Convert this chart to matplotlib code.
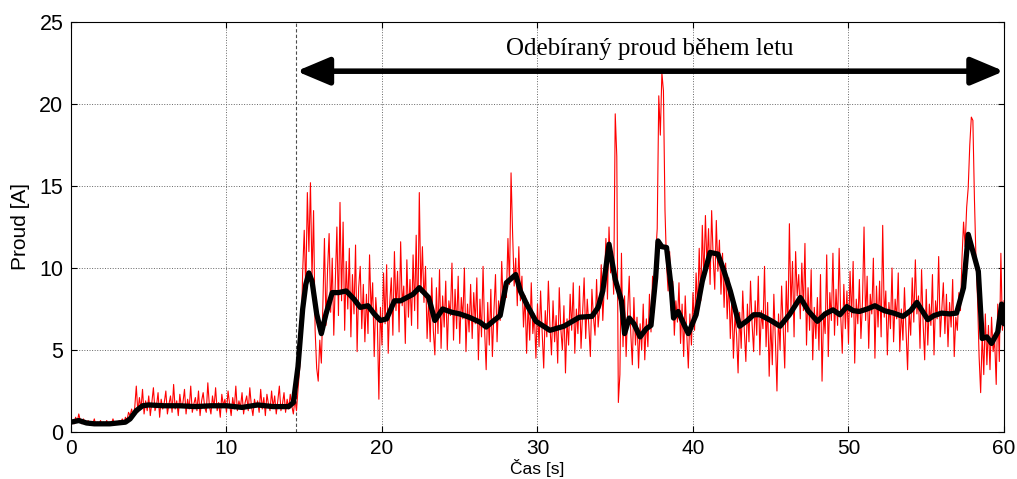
import numpy as np
import matplotlib
matplotlib.use("Agg")
import matplotlib.pyplot as plt

# Red raw current, sampled every 0.1 s from 0.0 to 60.0 s
red_current = [
    0.4, 0.7, 0.5, 0.9, 0.6, 1.1, 0.7, 0.5, 0.8, 0.6,
    0.5, 0.7, 0.4, 0.6, 0.5, 0.8, 0.4, 0.6, 0.5, 0.7,
    0.4, 0.6, 0.5, 0.7, 0.4, 0.6, 0.5, 0.8, 0.5, 0.6,
    0.5, 0.7, 0.6, 0.8, 0.5, 0.9, 0.7, 1.2, 1.0, 1.4,
    0.9, 1.5, 2.8, 1.2, 2.1, 1.4, 2.6, 1.1, 1.9, 1.3,
    2.2, 1.0, 1.8, 2.7, 1.3, 1.6, 2.4, 0.9, 2.0, 1.4,
    1.8, 2.5, 1.1, 1.7, 2.2, 1.2, 2.9, 1.4, 1.9, 1.0,
    2.3, 1.5, 1.8, 2.6, 1.1, 2.0, 1.4, 2.8, 1.2, 1.7,
    2.1, 1.3, 2.5, 1.0, 1.9, 2.4, 1.5, 1.2, 3.0, 1.6,
    1.1, 2.2, 1.5, 2.7, 1.3, 1.8, 0.9, 2.3, 1.6, 2.0,
    1.2, 2.5, 1.7, 1.0, 2.1, 1.4, 2.8, 1.3, 1.9, 1.5,
    2.4, 1.1, 1.8, 2.2, 1.3, 2.7, 1.6, 1.0, 2.0, 1.5,
    1.9, 1.2, 2.6, 1.4, 2.1, 1.0, 2.3, 1.7, 1.3, 2.5,
    1.5, 2.2, 1.1, 1.9, 2.8, 1.3, 1.7, 2.4, 1.2, 2.0,
    1.4, 2.3, 1.6, 1.1, 2.0, 1.3, 2.6, 3.8, 5.5, 9.8,
    12.3, 8.5, 14.6, 11.0, 15.2, 9.4, 13.5, 6.2, 3.9, 3.1,
    5.6, 4.2, 7.8, 11.8, 6.5, 9.9, 12.1, 7.3, 10.6, 5.9,
    9.2, 12.5, 7.1, 14.0, 8.0, 12.8, 6.2, 10.4, 7.5, 11.2,
    5.8, 9.6, 7.2, 11.4, 4.9, 8.8, 10.1, 6.3, 9.0, 5.5,
    8.4, 6.0, 10.8, 7.3, 9.1, 4.6, 8.2, 6.8, 2.0, 7.6,
    5.3, 9.7, 6.6, 10.2, 4.8, 7.9, 9.4, 5.9, 11.0, 7.4,
    9.8, 6.1, 11.6, 7.7, 8.9, 5.4, 10.5, 7.0, 9.3, 6.5,
    10.8, 7.4, 12.0, 6.3, 14.6, 8.5, 11.3, 7.9, 10.1, 5.7,
    8.1, 5.5, 9.4, 6.2, 4.7, 8.8, 6.0, 9.9, 5.1, 8.3,
    6.4, 9.2, 5.0, 8.0, 7.1, 10.3, 5.6, 8.7, 6.3, 9.5,
    5.4, 8.2, 6.9, 10.0, 4.9, 7.8, 6.1, 9.0, 5.7, 8.5,
    6.6, 9.4, 4.4, 8.1, 5.8, 10.1, 6.2, 3.8, 7.9, 5.3,
    8.7, 4.6, 7.4, 9.6, 5.5, 8.0, 6.8, 10.4, 7.6, 9.1,
    8.2, 11.8, 9.0, 15.8, 12.1, 8.9, 10.6, 7.7, 11.3, 8.0,
    9.5, 6.4, 8.3, 4.8, 7.9, 5.6, 9.1, 6.0, 7.2, 4.5,
    7.8, 5.2, 8.6, 6.1, 3.9, 7.4, 5.8, 9.2, 6.5, 4.7,
    8.0, 5.5, 7.1, 4.2, 8.8, 6.3, 5.0, 7.7, 3.6, 6.9,
    5.3, 8.4, 6.2, 9.1, 4.8, 7.5, 6.0, 8.9, 5.1, 7.3,
    9.4, 5.7, 8.1, 6.5, 4.6, 8.7, 7.0, 5.9, 9.3, 6.4,
    7.6, 10.2, 6.8, 9.0, 11.8, 8.1, 12.5, 9.7, 11.0, 8.4,
    19.4, 16.8, 1.8, 3.5, 10.9, 5.2, 8.3, 4.6, 7.4, 9.5,
    6.0, 4.1, 8.2, 5.3, 7.0, 3.9, 6.6, 5.0, 7.8, 4.4,
    6.9, 5.2, 8.4, 6.1, 9.5, 7.3, 10.8, 12.4, 20.5, 18.1,
    21.9, 20.8, 13.5, 10.2, 8.6, 11.0, 7.4, 9.2, 5.9, 8.0,
    6.7, 9.1, 5.4, 7.8, 4.6, 8.3, 6.0, 3.9, 7.2, 5.3,
    8.5, 6.2, 9.7, 7.4, 11.2, 8.0, 12.6, 9.3, 13.2, 10.1,
    12.4, 9.0, 13.5, 10.6, 8.7, 12.9, 9.8, 11.7, 8.4, 10.9,
    7.6, 10.3, 6.9, 9.4, 5.7, 8.2, 4.5, 7.1, 6.0, 3.6,
    7.3, 5.1, 8.6, 6.2, 4.3, 7.8, 5.5, 9.2, 6.6, 4.9,
    8.0, 5.9, 9.5, 4.7, 7.4, 6.3, 10.1, 5.2, 7.9, 3.4,
    6.8, 4.1, 8.4, 5.6, 2.5, 7.2, 5.0, 8.9, 6.4, 3.9,
    9.2, 6.1, 12.7, 7.5, 10.4, 5.8, 11.0, 8.3, 9.6, 6.9,
    10.3, 7.4, 11.5, 5.3, 8.8, 6.2, 9.9, 4.4, 7.6, 5.7,
    8.2, 5.0, 9.6, 3.1, 7.3, 6.0, 10.8, 4.6, 8.5, 6.8,
    10.9, 5.9, 8.7, 6.5, 11.2, 7.1, 4.8, 9.0, 6.3, 8.6,
    5.4, 9.8, 7.0, 10.4, 4.2, 8.1, 6.6, 9.3, 5.7, 7.9,
    12.5, 6.8, 9.5, 5.1, 8.4, 7.2, 10.6, 4.5, 8.9, 6.4,
    9.2, 5.8, 12.6, 7.0, 8.6, 4.7, 7.9, 6.3, 10.0, 5.5,
    8.1, 6.9, 9.7, 4.9, 7.5, 5.6, 8.8, 6.2, 3.8, 7.4,
    5.9, 9.4, 6.7, 10.5, 7.2, 8.3, 5.1, 9.9, 6.6, 4.4,
    8.7, 5.3, 7.8, 6.5, 9.6, 4.7, 8.0, 6.9, 10.7, 5.8,
    7.5, 9.1, 6.0, 8.4, 5.2, 7.9, 6.4, 9.3, 4.6, 7.0,
    6.2, 8.5, 7.4, 10.6, 12.8, 11.3, 13.7, 14.9, 17.5, 19.2,
    19.0, 14.2, 10.5, 8.1, 4.6, 2.4, 6.0, 3.5, 7.2, 4.1,
    6.5, 3.8, 7.0, 4.9, 5.6, 2.9, 7.8, 4.3, 10.9, 6.2,
    8.0,
]
red_time = np.linspace(0, 60, len(red_current))

# Black smoothed current (time, value)
black_time = [
    0, 0.5, 1.0, 1.5, 2.0, 2.5, 3.0, 3.5, 3.8, 4.2,
    4.6, 5.0, 6.0, 7.0, 8.0, 9.0, 10.0, 11.0, 12.0, 13.0,
    14.0, 14.3, 14.6, 14.9, 15.1, 15.3, 15.5, 15.8, 16.1, 16.4,
    16.8, 17.2, 17.7, 18.2, 18.6, 19.1, 19.5, 19.9, 20.3, 20.8,
    21.2, 21.6, 22.0, 22.4, 23.0, 23.4, 23.9, 24.5, 25.0, 25.6,
    26.3, 26.7, 27.2, 27.6, 28.0, 28.6, 28.9, 29.3, 29.9, 30.8,
    31.7, 32.7, 33.5, 33.9, 34.2, 34.6, 35.0, 35.4, 35.6, 35.9,
    36.2, 36.6, 37.0, 37.3, 37.6, 37.75, 38.0, 38.3, 38.6, 38.75,
    39.05, 39.4, 39.7, 40.2, 40.6, 41.1, 41.6, 42.0, 42.4, 43.0,
    43.5, 43.9, 44.3, 45.0, 45.6, 46.2, 46.9, 47.4, 48.0, 48.5,
    49.0, 49.45, 49.9, 50.3, 50.7, 51.2, 51.7, 52.3, 52.9, 53.5,
    54.0, 54.4, 54.8, 55.1, 55.5, 56.0, 56.5, 56.95, 57.4, 57.7,
    58.0, 58.35, 58.6, 58.9, 59.2, 59.6, 59.85, 60.0,
]
black_current = [
    0.6, 0.7, 0.55, 0.5, 0.5, 0.5, 0.55, 0.6, 0.8, 1.3,
    1.6, 1.65, 1.6, 1.6, 1.55, 1.6, 1.6, 1.5, 1.65, 1.55,
    1.55, 1.8, 4.0, 7.5, 9.0, 9.7, 9.2, 7.2, 6.0, 7.2,
    8.5, 8.5, 8.6, 8.1, 7.6, 7.7, 7.2, 6.8, 6.9, 8.0,
    8.0, 8.2, 8.4, 8.8, 8.2, 6.8, 7.5, 7.3, 7.2, 7.0,
    6.7, 6.4, 6.8, 7.1, 9.1, 9.6, 8.6, 7.8, 6.75, 6.2,
    6.45, 7.0, 7.05, 7.6, 8.6, 11.45, 9.3, 8.0, 6.0, 6.95,
    6.6, 5.8, 6.3, 6.5, 9.4, 11.65, 11.3, 11.25, 8.8, 6.95,
    7.35, 6.6, 6.0, 7.15, 9.2, 10.95, 10.85, 9.8, 8.6, 6.45,
    6.8, 7.15, 7.15, 6.8, 6.45, 7.15, 8.2, 7.4, 6.75, 7.2,
    7.45, 7.15, 7.65, 7.4, 7.35, 7.5, 7.7, 7.4, 7.25, 7.05,
    7.4, 7.9, 7.3, 6.85, 7.1, 7.25, 7.2, 7.25, 8.8, 12.05,
    11.0, 9.8, 5.7, 5.8, 5.4, 6.1, 7.8, 6.6,
]

x_ticks = [0, 10, 20, 30, 40, 50, 60]
y_ticks = [0, 5, 10, 15, 20, 25]
flight_start = 14.5
arrow_y = 22.0
annotation_text = "Odebíraný proud během letu"

sans = ["Liberation Sans", "DejaVu Sans"]
serif = ["Liberation Serif", "DejaVu Serif"]

fig = plt.figure(figsize=(10.17, 4.79), dpi=100)
ax = fig.add_axes([0.0698, 0.0981, 0.9174, 0.856])

ax.plot(red_time, red_current, color="red", lw=0.8, zorder=2)
ax.plot(black_time, black_current, color="black", lw=3.8, zorder=3,
        solid_joinstyle="round", solid_capstyle="round")

ax.axvline(flight_start, color="0.3", lw=0.8, ls=(0, (3, 2)), zorder=1)

ax.annotate("", xy=(60, arrow_y), xytext=(flight_start, arrow_y),
            arrowprops=dict(arrowstyle="<|-|>,head_length=1.0,head_width=0.42",
                            color="black", lw=4.0, mutation_scale=20,
                            shrinkA=0, shrinkB=0), zorder=4)
ax.text(37.2, 23.35, annotation_text, ha="center", va="center",
        fontsize=18, family=serif)

ax.set_xlim(0, 60)
ax.set_ylim(0, 25)
ax.set_xticks(x_ticks)
ax.set_yticks(y_ticks)
ax.grid(True, color="0.4", ls=":", lw=0.7)
ax.tick_params(direction="in", top=True, right=True, length=4,
               labelsize=15.5)
ax.tick_params(axis="x", pad=5.0, labelsize=15)
ax.tick_params(axis="y", pad=5.5)
for lab in ax.get_xticklabels() + ax.get_yticklabels():
    lab.set_family(sans)
for s in ax.spines.values():
    s.set_linewidth(0.8)

ax.set_ylabel("Proud [A]", fontsize=15, family=sans)
ax.yaxis.set_label_coords(-0.044, 0.5)
ax.set_xlabel("Čas [s]", fontsize=12.5, family=sans, va="center")
ax.xaxis.set_label_coords(0.5, -0.088)

fig.savefig("out.png", dpi=100)
